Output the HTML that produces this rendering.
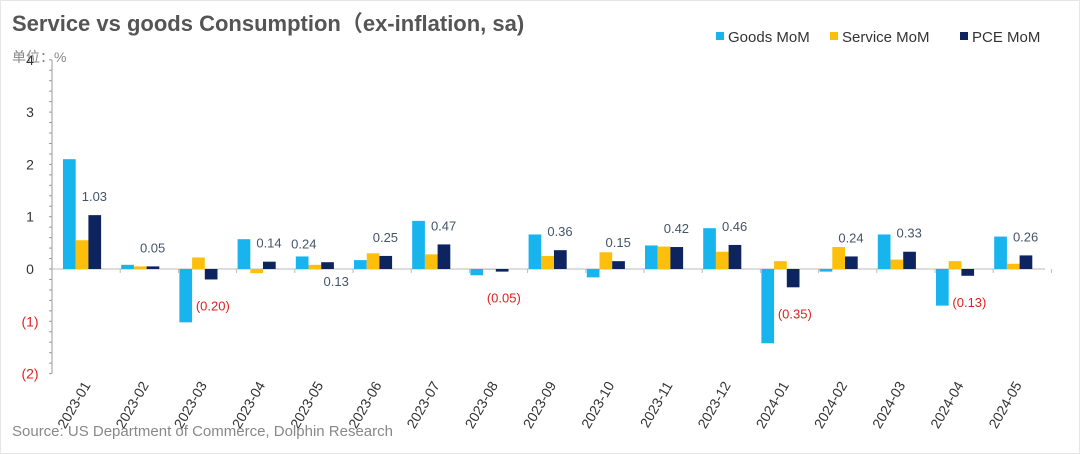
<!DOCTYPE html>
<html><head><meta charset="utf-8"><style>
body{margin:0;background:#fff;}
svg{display:block;font-family:"Liberation Sans","Noto Sans CJK SC",sans-serif;}
</style></head><body>
<svg id="chart" width="1080" height="454" viewBox="0 0 1080 454">
<rect x="0" y="0" width="1080" height="454" fill="#fff"/>
<rect x="0.5" y="0.5" width="1079" height="453" fill="none" stroke="#e6e6e6"/>
<text x="12" y="31" font-size="22" font-weight="bold" fill="#555">Service vs goods Consumption（ex-inflation, sa)</text>
<text x="12" y="62" font-size="14" fill="#888">单位：%</text>
<g id="legend">
<rect x="716" y="32" width="8" height="8" fill="#18b4ee"/>
<text x="728" y="42" font-size="15" fill="#333">Goods MoM</text>
<rect x="830" y="32" width="8" height="8" fill="#fbbf0c"/>
<text x="842" y="42" font-size="15" fill="#333">Service MoM</text>
<rect x="960" y="32" width="8" height="8" fill="#0d2461"/>
<text x="972" y="42" font-size="15" fill="#333">PCE MoM</text>
</g>
<g id="plot"></g>
<text x="12" y="436" font-size="15" fill="#888">Source: US Department of Commerce, Dolphin Research</text>
</svg>
<script>
const categories=["2023-01","2023-02","2023-03","2023-04","2023-05","2023-06","2023-07","2023-08","2023-09","2023-10","2023-11","2023-12","2024-01","2024-02","2024-03","2024-04","2024-05"];
const goods=[2.1,0.08,-1.02,0.57,0.24,0.17,0.92,-0.12,0.66,-0.16,0.45,0.78,-1.42,-0.05,0.66,-0.7,0.62];
const service=[0.55,0.05,0.22,-0.08,0.08,0.3,0.28,-0.01,0.25,0.32,0.43,0.33,0.15,0.42,0.18,0.15,0.1];
const pce=[1.03,0.05,-0.20,0.14,0.13,0.25,0.47,-0.05,0.36,0.15,0.42,0.46,-0.35,0.24,0.33,-0.13,0.26];
const yTicks=[4,3,2,1,0,-1,-2];
const yTickLabels=["4","3","2","1","0","(1)","(2)"];
const NS="http://www.w3.org/2000/svg";
const plot=document.getElementById('plot');
const y=v=>269-v*52.3;
const xStart=i=>62+i*58.2;
function mk(t,a){const e=document.createElementNS(NS,t);for(const k in a)e.setAttribute(k,a[k]);plot.appendChild(e);return e;}
let ax=mk('line',{x1:52,y1:y(4),x2:52,y2:y(-2),stroke:'#999'});


for(let v=-2;v<=4.001;v+=0.2){let t=mk('line',{x1:49,x2:52,y1:y(v),y2:y(v),stroke:'#999'});

}
yTicks.forEach((v,i)=>{let t=mk('text',{x:30,y:y(v)+5,'font-size':14,'text-anchor':'middle',fill:v<0?'#e02020':'#333'});t.textContent=yTickLabels[i];

});
let z=mk('line',{x1:52,x2:1045,y1:y(0),y2:y(0),stroke:'#bbb'});


const series=[[goods,'#18b4ee','goods'],[service,'#fbbf0c','service'],[pce,'#0d2461','pce']];
categories.forEach((c,i)=>{
 const x0=xStart(i);
 let tk=mk('line',{x1:x0+58.2,x2:x0+58.2,y1:y(0),y2:y(0)+4,stroke:'#bbb'});
 
 
 series.forEach(([arr,col,nm],j)=>{
  const v=arr[i];const bx=x0+1+j*12.7;
  let r=mk('rect',{x:bx,y:Math.min(y(v),y(0)),width:12.7,height:Math.max(Math.abs(y(v)-y(0)),0.8),fill:col});
  
  
 });
 const v=pce[i];const cx=x0+1+2*12.7+6;
 let lt;
 if(v<0){lt=mk('text',{x:cx+2,y:y(v)+31,'font-size':13,'text-anchor':'middle',fill:'#e02020'});lt.textContent='('+Math.abs(v).toFixed(2)+')';}
 else if(c==='2023-05'){lt=mk('text',{x:cx+9,y:y(0)+17,'font-size':13,'text-anchor':'middle',fill:'#44546a'});lt.textContent=v.toFixed(2);
  let l2=mk('text',{x:x0+9,y:y(goods[i])-8,'font-size':13,'text-anchor':'middle',fill:'#44546a'});l2.textContent=goods[i].toFixed(2);
  
  }
 else {lt=mk('text',{x:cx,y:y(v)-14,'font-size':13,'text-anchor':'middle',fill:'#44546a'});lt.textContent=v.toFixed(2);}
 
 
 const lx=x0+29,ly=385;
 let xl=mk('text',{x:lx,y:ly,'font-size':14,'text-anchor':'end',fill:'#333',transform:`rotate(-60 ${lx} ${ly})`});
 xl.textContent=c;
 
 
});
</script>
</body></html>
